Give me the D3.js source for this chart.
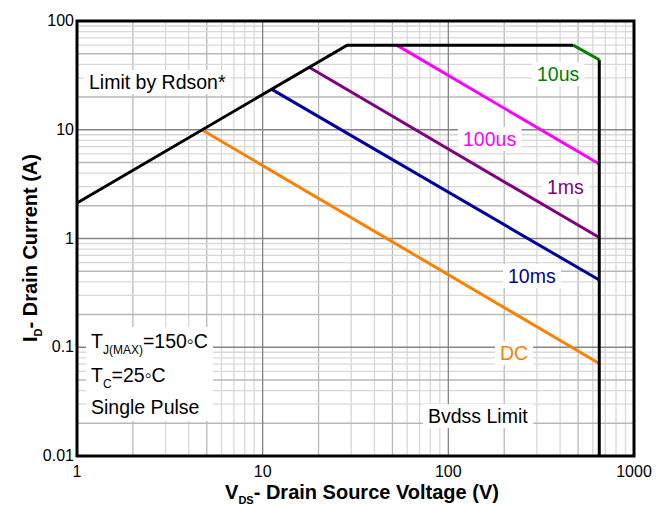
<!DOCTYPE html>
<html><head><meta charset="utf-8">
<script src="https://cdn.jsdelivr.net/npm/d3@7"></script>
<style>body{margin:0;background:#fff;} svg{font-family:"Liberation Sans",Arial,sans-serif;}</style>
</head><body><svg id="c" width="667" height="505"></svg>
<script>
const xTicks=[1,10,100,1000];
const yTicks=[0.01,0.1,1,10,100];
const xTickLabels=["1","10","100","1000"];
const yTickLabels=["0.01","0.1","1","10","100"];
const limitV=[1,28.5,470], limitI=[2.12,60,60];
const us10V=[470,650], us10I=[60,44];
const bvdssV=[650,650], bvdssI=[44,0.01];
const us100V=[52.7,650], us100I=[60,4.84];
const ms1V=[17.8,650], ms1I=[37.5,1.02];
const ms10V=[11.2,650], ms10I=[23.5,0.415];
const dcV=[4.7,650], dcI=[10,0.071];

const svg=d3.select("#c");
const L=77,R=634,T=21,B=456;
const x=d3.scaleLog().domain([1,1000]).range([L,R]);
const y=d3.scaleLog().domain([0.01,100]).range([B,T]);

// grid
const g=svg.append("g");
const minor=[];
for(let d=1;d<1000;d*=10) for(let k=2;k<=9;k++) minor.push(d*k);
const minorY=[];
for(let d=0.01;d<99;d*=10) for(let k=2;k<=9;k++) minorY.push(d*k);
const mant=d=>Math.round(d/Math.pow(10,Math.floor(Math.log10(d)+1e-9)));
const gcol=d=>([2,5].includes(mant(d))?"#b8b8b8":"#d8d8d8");
g.selectAll(".vx").data(minor).enter().append("line")
 .attr("x1",d=>x(d)).attr("x2",d=>x(d)).attr("y1",T).attr("y2",B)
 .attr("stroke",gcol).attr("stroke-width",1.3);
g.selectAll(".hy").data(minorY).enter().append("line")
 .attr("y1",d=>y(d)).attr("y2",d=>y(d)).attr("x1",L).attr("x2",R)
 .attr("stroke",gcol).attr("stroke-width",1.3);
g.selectAll(".mx").data(xTicks).enter().append("line")
 .attr("x1",d=>x(d)).attr("x2",d=>x(d)).attr("y1",T).attr("y2",B).attr("stroke","#858585").attr("stroke-width",1.3);
g.selectAll(".my").data(yTicks).enter().append("line")
 .attr("y1",d=>y(d)).attr("y2",d=>y(d)).attr("x1",L).attr("x2",R).attr("stroke","#858585").attr("stroke-width",1.3);

const FS=19.5;
function label(tx,ty,text,color){
  const t=svg.append("text").attr("x",tx).attr("y",ty).attr("fill",color).attr("font-size",FS).text(text);
  const bb=t.node().getBBox();
  svg.insert("rect","text").attr("x",bb.x-5).attr("y",bb.y-1).attr("width",bb.width+10).attr("height",bb.height+2).attr("fill","#fff");
  return t;
}

const line=d3.line().x(d=>x(d[0])).y(d=>y(d[1]));
const series=[
 [dcV,dcI,"#ff8000"],[ms10V,ms10I,"#0000a0"],[ms1V,ms1I,"#800080"],[us100V,us100I,"#ff00ff"],
 [us10V,us10I,"#008000"],[limitV,limitI,"#000"],[bvdssV,bvdssI,"#000"]];

label(89,89,"Limit by Rdson*","#000");
label(537,81,"10us","#008000");
label(463,146,"100us","#ff00ff");
label(547,194,"1ms","#800080");
label(508,283,"10ms","#0000a0");
label(500,360,"DC","#ff8000");
label(428,423,"Bvdss Limit","#000");
(function(){
 const lines=[[348,"T","J(MAX)","=150◦C"],[382,"T","C","=25◦C"]];
 const grp=svg.append("g");
 lines.forEach(l=>{
  const t=grp.append("text").attr("x",91).attr("y",l[0]).attr("font-size",FS);
  t.append("tspan").text(l[1]);
  t.append("tspan").attr("font-size",12).attr("dy",6).text(l[2]);
  t.append("tspan").attr("dy",-6).text(l[3]);
 });
 grp.append("text").attr("x",91).attr("y",414).attr("font-size",FS).text("Single Pulse");
 const bb=grp.node().getBBox();
 svg.insert("rect","text").attr("x",bb.x-5).attr("y",bb.y-3).attr("width",bb.width+10).attr("height",bb.height+6).attr("fill","#fff");
})();

series.forEach(s=>{
  svg.append("path").datum(s[0].map((v,i)=>[v,s[1][i]])).attr("d",line)
   .attr("fill","none").attr("stroke",s[2]).attr("stroke-width",3);
});

svg.append("rect").attr("x",L).attr("y",T).attr("width",R-L).attr("height",B-T).attr("fill","none").attr("stroke","#000").attr("stroke-width",3);

svg.selectAll(".xt").data(xTicks).enter().append("text").attr("x",d=>x(d)).attr("y",B+21).attr("text-anchor","middle").attr("font-size",16).text((d,i)=>xTickLabels[i]);
svg.selectAll(".yt").data(yTicks).enter().append("text").attr("x",L-3).attr("y",d=>y(d)+5).attr("text-anchor","end").attr("font-size",16).text((d,i)=>yTickLabels[i]);

const xt=svg.append("text").attr("x",362).attr("y",499).attr("text-anchor","middle").attr("font-size",20).attr("font-weight","bold");
xt.append("tspan").text("V");
xt.append("tspan").attr("font-size",11).attr("dy",5).text("DS");
xt.append("tspan").attr("dy",-5).text("- Drain Source Voltage (V)");
const yt=svg.append("text").attr("transform","translate(37,248) rotate(-90)").attr("text-anchor","middle").attr("font-size",20).attr("font-weight","bold");
yt.append("tspan").text("I");
yt.append("tspan").attr("font-size",11).attr("dy",5).text("D");
yt.append("tspan").attr("dy",-5).text("- Drain Current (A)");
</script></body></html>
